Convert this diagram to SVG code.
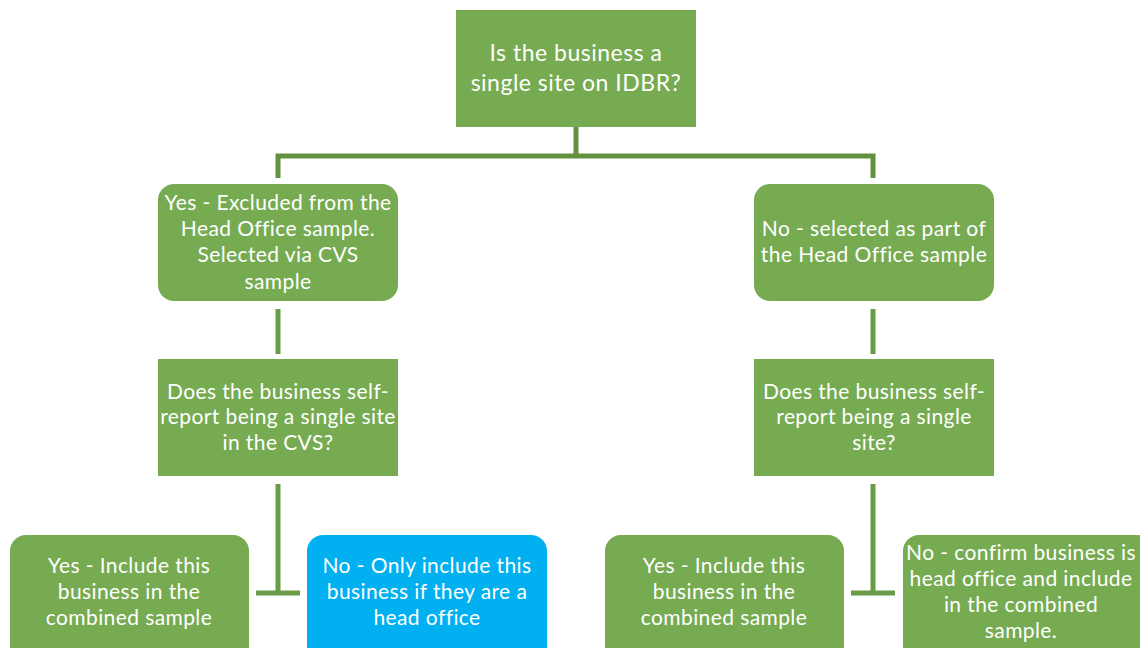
<svg xmlns="http://www.w3.org/2000/svg" width="1140" height="648" viewBox="0 0 1140 648">
<style>
.g{fill:#76AB52}
.b{fill:#00B0F0}
.t{fill:#ffffff;font-family:Lato,"Liberation Sans",sans-serif;font-size:21px;letter-spacing:0.4px;text-anchor:middle}
.tt{font-size:23px;letter-spacing:0.5px}
.c{fill:none;stroke:#6A9B48;stroke-width:5}
.cd{stroke:#62913F}
</style>
<rect width="1140" height="648" fill="#ffffff"/>
<g id="connectors">
<path class="c cd" d="M576 127V156M278 178V156H873V178"/>
<path class="c" d="M278 309V354M873 309V354"/>
<path class="c" d="M278 484V593M256 593H300"/>
<path class="c" d="M873 484V593M851 593H895"/>
</g>
<g id="n1">
<rect class="g" x="456" y="10" width="240" height="117"/>
<text class="t tt" x="576" y="61">Is the business a</text>
<text class="t tt" x="576" y="91">single site on IDBR?</text>
</g>
<g id="n2">
<rect class="g" x="158" y="184" width="240" height="117" rx="16"/>
<text class="t" x="278" y="210">Yes - Excluded from the</text>
<text class="t" x="278" y="236">Head Office sample.</text>
<text class="t" x="278" y="262">Selected via CVS</text>
<text class="t" x="278" y="289">sample</text>
</g>
<g id="n3">
<rect class="g" x="754" y="184" width="240" height="117" rx="16"/>
<text class="t" x="874" y="236">No - selected as part of</text>
<text class="t" x="874" y="262">the Head Office sample</text>
</g>
<g id="n4">
<rect class="g" x="158" y="359" width="240" height="117"/>
<text class="t" x="278" y="399">Does the business self-</text>
<text class="t" x="278" y="424">report being a single site</text>
<text class="t" x="278" y="450">in the CVS?</text>
</g>
<g id="n5">
<rect class="g" x="754" y="359" width="240" height="117"/>
<text class="t" x="874" y="399">Does the business self-</text>
<text class="t" x="874" y="424">report being a single</text>
<text class="t" x="874" y="450">site?</text>
</g>
<g id="n6">
<rect class="g" x="10" y="535" width="239" height="130" rx="16"/>
<text class="t" x="129" y="573">Yes - Include this</text>
<text class="t" x="129" y="599">business in the</text>
<text class="t" x="129" y="625">combined sample</text>
</g>
<g id="n7">
<rect class="b" x="307" y="535" width="240" height="130" rx="16"/>
<text class="t" x="427" y="573">No - Only include this</text>
<text class="t" x="427" y="599">business if they are a</text>
<text class="t" x="427" y="625">head office</text>
</g>
<g id="n8">
<rect class="g" x="605" y="535" width="239" height="130" rx="16"/>
<text class="t" x="724" y="573">Yes - Include this</text>
<text class="t" x="724" y="599">business in the</text>
<text class="t" x="724" y="625">combined sample</text>
</g>
<g id="n9">
<rect class="g" x="903" y="535" width="250" height="130" rx="16"/>
<text class="t" x="1021" y="560">No - confirm business is</text>
<text class="t" x="1021" y="586">head office and include</text>
<text class="t" x="1021" y="612">in the combined</text>
<text class="t" x="1021" y="638">sample.</text>
</g>
</svg>
